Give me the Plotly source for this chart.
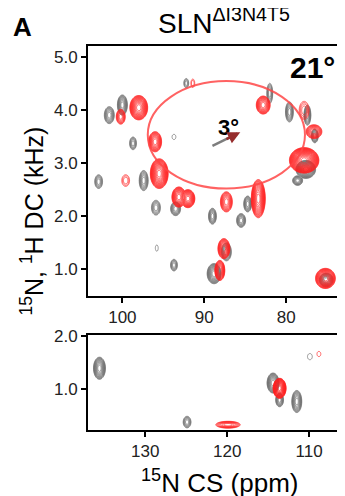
import numpy as np
import plotly.graph_objects as go

# ---------------- data (peak tables) ----------------
# top panel: 15N CS (ppm), DC (kHz), half-width ppm, half-width kHz, relative height
top_gray_x  = [101.6, 100.0, 92.2, 98.7, 93.7, 102.9, 97.4, 95.9, 93.5, 89.0, 95.8, 93.7, 88.8, 85.5, 84.7, 87.3, 75.1, 82.0, 79.6, 77.4, 76.5, 77.6, 78.6]
top_gray_y  = [3.90, 4.09, 4.50, 3.37, 3.49, 2.65, 2.67, 2.16, 2.14, 2.00, 1.40, 1.08, 0.92, 1.92, 2.23, 1.33, 0.80, 4.31, 3.96, 3.90, 3.51, 2.88, 2.67]
top_gray_wx = [0.61, 0.61, 0.30, 0.42, 0.24, 0.48, 0.55, 0.55, 0.61, 0.48, 0.18, 0.42, 0.85, 0.55, 0.48, 0.61, 0.85, 0.36, 0.48, 0.42, 0.42, 1.20, 0.61]
top_gray_wy = [0.16, 0.19, 0.09, 0.12, 0.05, 0.13, 0.19, 0.14, 0.13, 0.15, 0.06, 0.11, 0.19, 0.13, 0.15, 0.17, 0.13, 0.19, 0.19, 0.19, 0.13, 0.17, 0.09]
top_gray_n  = [4, 5, 2, 3, 0.5, 3, 4, 3, 4, 4, 0.5, 3, 6, 4, 4, 4, 5, 3, 4, 4, 4, 7, 4]

top_red_x  = [100.2, 98.0, 91.4, 96.0, 99.6, 95.5, 93.1, 92.0, 87.3, 83.4, 87.6, 88.1, 75.2, 82.8, 77.8, 76.6, 77.8]
top_red_y  = [3.87, 4.04, 4.50, 3.40, 2.67, 2.80, 2.36, 2.33, 2.27, 2.33, 1.39, 0.98, 0.83, 4.09, 3.99, 3.59, 3.05]
top_red_wx = [0.55, 1.09, 0.24, 0.79, 0.48, 1.09, 0.85, 0.85, 0.73, 0.85, 0.73, 0.61, 1.21, 0.85, 0.61, 0.97, 1.80]
top_red_wy = [0.14, 0.23, 0.08, 0.19, 0.11, 0.28, 0.19, 0.17, 0.19, 0.36, 0.19, 0.19, 0.19, 0.17, 0.17, 0.13, 0.24]
top_red_n  = [4, 8, 1, 6, 1.5, 9, 7, 7, 5, 8, 6, 6, 8, 6, 2, 5, 12]

bot_gray_x  = [135.6, 124.9, 114.4, 113.6, 111.5, 109.9]
bot_gray_y  = [1.39, 0.37, 1.11, 0.79, 0.76, 1.61]
bot_gray_wx = [0.73, 0.48, 0.73, 0.48, 0.61, 0.30]
bot_gray_wy = [0.21, 0.11, 0.19, 0.13, 0.21, 0.06]
bot_gray_n  = [6, 3, 6, 4, 5, 0.5]

bot_red_x  = [119.9, 113.6, 108.8]
bot_red_y  = [0.32, 1.01, 1.66]
bot_red_wx = [1.50, 0.79, 0.24]
bot_red_wy = [0.065, 0.19, 0.05]
bot_red_n  = [4, 10, 0.5]

# PISA wheel (ellipse) and tilt arrow
wheel_cx, wheel_cy, wheel_ax, wheel_ay = 87.3, 3.53, 9.6, 1.01
arrow_x0, arrow_y0, arrow_x1, arrow_y1 = 89.0, 3.32, 85.6, 3.58

x_top_ticks = [100, 90, 80]
x_bot_ticks = [130, 120, 110]

FONT = "Liberation Sans, Arial, sans-serif"
RED = "rgb(255,35,35)"
GRAY = "rgb(108,108,108)"
LEVEL_STEP = 0.5


def field(xs, ys, px, py, wx, wy, n):
    X, Y = np.meshgrid(xs, ys)
    F = np.full(X.shape, -1.0)
    for x0, y0, rx, ry, k in zip(px, py, wx, wy, n):
        f = k * (1 - ((X - x0) / rx) ** 2 - ((Y - y0) / ry) ** 2)
        F = np.maximum(F, f)
    return F


def contour(xs, ys, Z, color, xa, ya):
    return go.Contour(
        x=xs, y=ys, z=Z, xaxis=xa, yaxis=ya,
        contours=dict(start=0.02, end=30, size=LEVEL_STEP, coloring="lines"),
        colorscale=[[0, color], [1, color]], showscale=False,
        line=dict(width=0.7), hoverinfo="skip",
    )


xs_t = np.linspace(72.5, 105, 450)
ys_t = np.linspace(0.35, 5.3, 450)
xs_b = np.linspace(105.5, 137.5, 450)
ys_b = np.linspace(0.1, 2.1, 240)

fig = go.Figure()
fig.add_trace(contour(xs_t, ys_t, field(xs_t, ys_t, top_gray_x, top_gray_y, top_gray_wx, top_gray_wy, top_gray_n), GRAY, "x", "y"))
fig.add_trace(contour(xs_t, ys_t, field(xs_t, ys_t, top_red_x, top_red_y, top_red_wx, top_red_wy, top_red_n), RED, "x", "y"))
fig.add_trace(contour(xs_b, ys_b, field(xs_b, ys_b, bot_gray_x, bot_gray_y, bot_gray_wx, bot_gray_wy, bot_gray_n), GRAY, "x2", "y2"))
fig.add_trace(contour(xs_b, ys_b, field(xs_b, ys_b, bot_red_x, bot_red_y, bot_red_wx, bot_red_wy, bot_red_n), RED, "x2", "y2"))

# arrow: gray shaft, dark red head
mx = arrow_x0 + 0.6 * (arrow_x1 - arrow_x0)
my = arrow_y0 + 0.6 * (arrow_y1 - arrow_y0)
fig.add_trace(go.Scatter(x=[arrow_x0, mx], y=[arrow_y0, my], mode="lines",
                         line=dict(color="rgb(125,125,125)", width=2.5),
                         xaxis="x", yaxis="y", hoverinfo="skip", showlegend=False))

fig.add_shape(type="circle", xref="x", yref="y",
              x0=wheel_cx - wheel_ax, x1=wheel_cx + wheel_ax,
              y0=wheel_cy - wheel_ay, y1=wheel_cy + wheel_ay,
              line=dict(color="rgba(255,70,70,0.85)", width=2))

axis_common = dict(showline=True, mirror=True, linecolor="black", linewidth=2,
                   ticks="outside", ticklen=5, tickwidth=1.5, tickcolor="black",
                   showgrid=False, zeroline=False,
                   tickfont=dict(family=FONT, size=17, color="#222"))

# page body adds an 8 px offset; margins compensate so the frame lands where the reference has it
fig.update_layout(
    width=345, height=496,
    margin=dict(l=80, r=10, t=38, b=74),
    paper_bgcolor="white", plot_bgcolor="white", showlegend=False,
    xaxis=dict(domain=[0, 1], anchor="y", range=[104.2, 73.3], tickvals=x_top_ticks, **axis_common),
    yaxis=dict(domain=[0.349, 1], anchor="x", range=[0.5, 5.2], dtick=1, tickformat=".1f", **axis_common),
    xaxis2=dict(domain=[0, 1], anchor="y2", range=[137.0, 106.1], tickvals=x_bot_ticks, **axis_common),
    yaxis2=dict(domain=[0, 0.2474], anchor="x2", range=[0.22, 2.02], tickvals=[1.0, 2.0], tickformat=".1f", **axis_common),
)

ann = [
    dict(text="<b>A</b>", x=-0.26, y=1.05, xref="paper", yref="paper",
         font=dict(family=FONT, size=26, color="black")),
    dict(text="SLN<sup>ΔI3N4T5</sup>", x=0.539, y=1.064, xref="paper", yref="paper",
         font=dict(family=FONT, size=28, color="black")),
    dict(text="<b>21°</b>", x=0.985, y=0.945, xref="paper", yref="paper", xanchor="right",
         font=dict(family=FONT, size=30, color="black")),
    dict(text="<b>3°</b>", x=87.1, y=3.67, xref="x", yref="y",
         font=dict(family=FONT, size=22, color="black")),
    dict(text="<sup>15</sup>N, <sup>1</sup>H DC (kHz)", x=-0.2196, y=0.544, xref="paper", yref="paper",
         textangle=-90, font=dict(family=FONT, size=25, color="black")),
    dict(text="<sup>15</sup>N CS (ppm)", x=0.518, y=-0.135, xref="paper", yref="paper",
         font=dict(family=FONT, size=26, color="black")),
]
for a in ann:
    a.setdefault("showarrow", False)
    a.setdefault("xanchor", "center")
    a.setdefault("yanchor", "middle")
    fig.add_annotation(**a)

fig.add_annotation(x=arrow_x1, y=arrow_y1, ax=mx + 0.15 * (arrow_x0 - arrow_x1), ay=my + 0.15 * (arrow_y0 - arrow_y1),
                   xref="x", yref="y", axref="x", ayref="y", text="", showarrow=True,
                   arrowhead=2, arrowsize=1, arrowwidth=2.5, arrowcolor="rgb(150,45,45)", standoff=0)

fig.write_html("out.html")
